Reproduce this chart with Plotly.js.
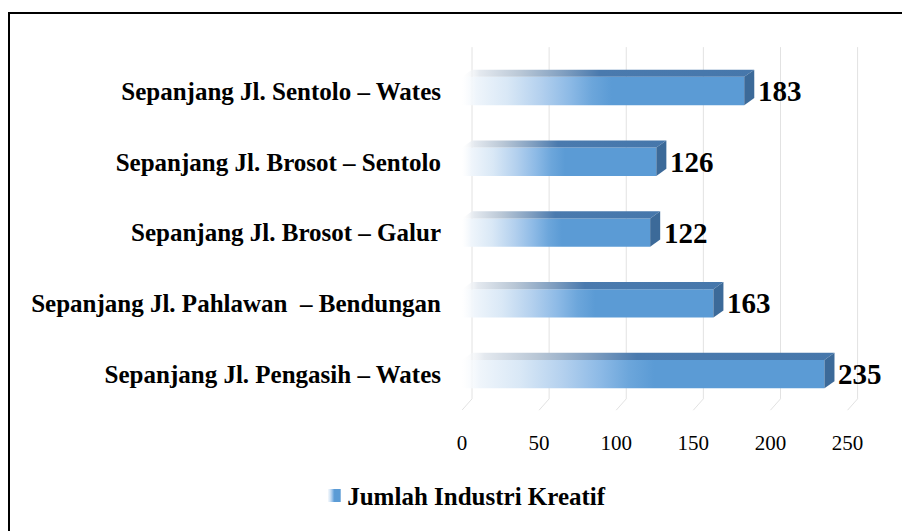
<!DOCTYPE html>
<html>
<head>
<meta charset="utf-8">
<script src="https://cdn.plot.ly/plotly-3.0.1.min.js"></script>
<style>
  html, body { margin: 0; padding: 0; background: #fff; }
  #wrap { position: relative; width: 902px; height: 531px; overflow: hidden; }
  #chart { position: absolute; left: 0; top: 0; width: 902px; height: 531px; }
  #frame { position: absolute; left: 8px; top: 12px; width: 900px; height: 530px;
           border-top: 2px solid #000; border-left: 2px solid #000; pointer-events: none; }
</style>
</head>
<body>
<div id="wrap">
  <div id="chart"></div>
  <div id="frame"></div>
</div>
<script>
// ---- data (bottom to top, as drawn) ----
const categories = [
  "Sepanjang Jl. Pengasih \u2013 Wates",
  "Sepanjang Jl. Pahlawan\u00A0 \u2013 Bendungan",
  "Sepanjang Jl. Brosot \u2013 Galur",
  "Sepanjang Jl. Brosot \u2013 Sentolo",
  "Sepanjang Jl. Sentolo \u2013 Wates"
];
const values = [235, 163, 122, 126, 183];
const xTicks = [0, 50, 100, 150, 200, 250];
const seriesName = "Jumlah Industri Kreatif";

// ---- style constants ----
const FONT = '"Liberation Serif", "Times New Roman", serif';
const BAR_W = 0.40;       // bar thickness in category units
const DX = 6.5;           // 3D depth in x units
const DY = 0.10;          // 3D depth in category units
const GRID_TOP = 4.62, GRID_BOT = -0.35, GRID_FLOOR = -0.51;

const pos = categories.map((_, i) => i);

const shapes = [];
// slanted back gridlines
xTicks.forEach(t => {
  shapes.push({type: 'line', xref: 'x', yref: 'y', layer: 'below',
    x0: t + DX, x1: t + DX, y0: GRID_BOT, y1: GRID_TOP,
    line: {color: '#E2E2E2', width: 1}});
  shapes.push({type: 'line', xref: 'x', yref: 'y', layer: 'below',
    x0: t + DX, x1: t, y0: GRID_BOT, y1: GRID_FLOOR,
    line: {color: '#E2E2E2', width: 1}});
});
const topIdx = [], sideIdx = [];
values.forEach((v, i) => {
  const yt = pos[i] + BAR_W / 2, yb = pos[i] - BAR_W / 2;
  topIdx.push(shapes.length);
  shapes.push({type: 'path', xref: 'x', yref: 'y', layer: 'above',
    path: `M0,${yt} L${v},${yt} L${v + DX},${yt + DY} L${DX},${yt + DY} Z`,
    fillcolor: '#4677AB', line: {width: 0}});
  sideIdx.push(shapes.length);
  shapes.push({type: 'path', xref: 'x', yref: 'y', layer: 'above',
    path: `M${v},${yb} L${v},${yt} L${v + DX},${yt + DY} L${v + DX},${yb + DY} Z`,
    fillcolor: '#3C6A99', line: {width: 0}});
});

const annotations = values.map((v, i) => ({
  x: v + DX, y: pos[i], xref: 'x', yref: 'y', xanchor: 'left', yanchor: 'middle',
  xshift: 2, yshift: 0, showarrow: false, text: '<b>' + v + '</b>',
  font: {family: FONT, size: 29, color: '#000'}
}));

const trace = {
  type: 'bar', orientation: 'h', name: seriesName,
  x: values, y: pos, width: BAR_W,
  marker: {color: '#5B9BD5', line: {width: 0}},
  hoverinfo: 'none', showlegend: true
};

const layout = {
  width: 902, height: 531,
  margin: {l: 462, r: 39, t: 45, b: 111},
  paper_bgcolor: '#fff', plot_bgcolor: 'rgba(0,0,0,0)',
  font: {family: FONT, color: '#000'},
  showlegend: true,
  legend: {orientation: 'h', x: -0.386, xanchor: 'left', y: -0.225, yanchor: 'middle',
           font: {family: FONT, size: 25, color: '#000', weight: 'bold'}, bgcolor: 'rgba(0,0,0,0)'},
  xaxis: {range: [0, 260], tickvals: xTicks, ticktext: xTicks.map(String),
          showgrid: false, zeroline: false, showline: false, ticks: '',
          tickfont: {family: FONT, size: 21, color: '#000'}, ticklabelstandoff: 15, fixedrange: true},
  yaxis: {range: [-0.55, 4.65], tickvals: pos, ticktext: categories.map(c => '<b>' + c + '</b>'),
          showgrid: false, zeroline: false, showline: false, ticks: '',
          tickfont: {family: FONT, size: 25, color: '#000'}, ticklabelstandoff: 20, fixedrange: true},
  shapes: shapes,
  annotations: annotations,
  bargap: 0.6
};

function addGrad(defs, id, stops) {
  const ns = 'http://www.w3.org/2000/svg';
  const g = document.createElementNS(ns, 'linearGradient');
  g.setAttribute('id', id);
  g.setAttribute('x1', '0'); g.setAttribute('y1', '0');
  g.setAttribute('x2', '1'); g.setAttribute('y2', '0');
  stops.forEach(([off, col, op]) => {
    const s = document.createElementNS(ns, 'stop');
    s.setAttribute('offset', off);
    s.setAttribute('stop-color', col);
    s.setAttribute('stop-opacity', op === undefined ? 1 : op);
    g.appendChild(s);
  });
  defs.appendChild(g);
}

Plotly.newPlot('chart', [trace], layout, {displayModeBar: false, staticPlot: true}).then(gd => {
  const svg = gd.querySelector('svg.main-svg');
  let defs = svg.querySelector('defs');
  addGrad(defs, 'gFront', [
    [0, '#FFFFFF', 0.6], [0.05, '#EFF5FB'], [0.16, '#D9E8F6'], [0.28, '#B3D0EE'],
    [0.38, '#8DBAE6'], [0.46, '#6CA6DB'], [0.53, '#5B9BD5'], [1, '#5B9BD5']]);
  addGrad(defs, 'gTop', [
    [0, '#FFFFFF', 0.3], [0.06, '#E4E9EF'], [0.2, '#B9C7D6'], [0.35, '#7F9EC0'],
    [0.47, '#4A7AAE'], [1, '#4677AB']]);
  gd.querySelectorAll('.barlayer path').forEach(p => { p.style.fill = 'url(#gFront)'; });
  topIdx.forEach(k => gd.querySelectorAll('.shapelayer path[data-index="' + k + '"]')
    .forEach(p => { p.style.fill = 'url(#gTop)'; }));
  const lp = gd.querySelector('.legend .legendpoints');
  if (lp) {
    lp.setAttribute('transform', 'translate(7,0)');
    lp.querySelectorAll('path').forEach(p => {
      p.setAttribute('d', 'M-6.5,-6.5H6.5V6.5H-6.5Z');
      p.style.fill = 'url(#gFront)';
    });
  }
});
</script>
</body>
</html>
